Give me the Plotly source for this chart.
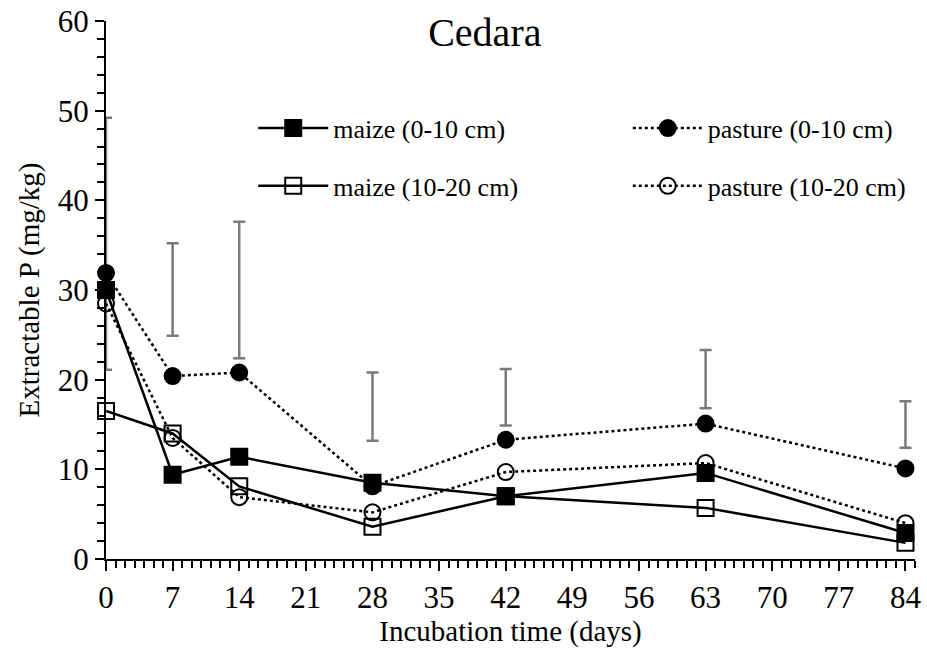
import plotly.graph_objects as go

days = [0, 7, 14, 28, 42, 63, 84]

maize_0_10 = [30.0, 9.4, 11.4, 8.5, 7.0, 9.6, 2.9]
maize_10_20 = [16.5, 14.0, 8.1, 3.6, 7.0, 5.7, 1.8]
pasture_0_10 = [31.9, 20.4, 20.8, 8.1, 13.3, 15.1, 10.1]
pasture_10_20 = [28.5, 13.5, 6.9, 5.2, 9.7, 10.7, 4.0]

# LSD bars (lower and upper ends)
lsd_low = [21.1, 24.9, 22.4, 13.2, 14.9, 16.8, 12.4]
lsd_high = [49.2, 35.2, 37.6, 20.8, 21.2, 23.3, 17.6]

FONT = "Liberation Serif, Times New Roman, serif"

fig = go.Figure()

# error bars first so they sit under the markers
fig.add_trace(go.Scatter(
    x=days, y=lsd_low, mode="markers",
    marker=dict(size=1, color="rgba(0,0,0,0)"),
    error_y=dict(type="data", symmetric=False,
                 array=[h - l for h, l in zip(lsd_high, lsd_low)],
                 arrayminus=[0] * len(days),
                 color="#7a7a7a", thickness=2.5, width=6),
    showlegend=False, hoverinfo="skip", cliponaxis=False,
))

series = [
    ("maize (0-10 cm)", maize_0_10, "solid", "square", "legend", "m1"),
    ("maize (10-20 cm)", maize_10_20, "solid", "square-open", "legend", "m2"),
    ("pasture (0-10 cm)", pasture_0_10, "dot", "circle", "legend2", "p1"),
    ("pasture (10-20 cm)", pasture_10_20, "dot", "circle-open", "legend2", "p2"),
]

for name, vals, dash, sym, leg, grp in series:
    fig.add_trace(go.Scatter(
        x=days, y=vals, name=name, mode="lines+markers",
        line=dict(color="black", width=2.5, dash=dash),
        marker=dict(symbol=sym, size=16, color="black",
                    line=dict(color="black", width=2)),
        legend=leg, legendgroup=grp, cliponaxis=False,
    ))

legend_style = dict(
    font=dict(family=FONT, size=26, color="black"),
    bgcolor="rgba(0,0,0,0)", traceorder="grouped",
    tracegroupgap=21, itemwidth=70, yanchor="middle",
)

fig.update_layout(
    width=927, height=653,
    margin=dict(l=106, r=12, t=21, b=94),
    paper_bgcolor="white", plot_bgcolor="white",
    font=dict(family=FONT, size=30, color="black"),
    title=dict(text="Cedara", x=0.523, xanchor="center", y=0.951, yanchor="middle",
               font=dict(family=FONT, size=40, color="black")),
    legend=dict(x=0.182, y=0.747, **legend_style),
    legend2=dict(x=0.645, y=0.747, **legend_style),
    xaxis=dict(
        range=[0, 85], tickmode="array", tickvals=list(range(0, 85, 7)),
        ticks="outside", ticklen=10, tickwidth=2, tickcolor="black",
        showline=True, linecolor="black", linewidth=2,
        showgrid=False, zeroline=False, automargin=False,
        ticklabeloverflow="allow",
        minor=dict(dtick=1, ticks="outside", ticklen=7, tickwidth=1.5,
                   tickcolor="black", showgrid=False),
        title=dict(text="Incubation time (days)", font=dict(size=29), standoff=6),
        tickfont=dict(size=31),
    ),
    yaxis=dict(
        range=[0, 60], dtick=10,
        ticks="outside", ticklen=9, tickwidth=2, tickcolor="black",
        showline=True, linecolor="black", linewidth=2,
        showgrid=False, zeroline=False, automargin=False,
        ticklabeloverflow="allow",
        minor=dict(dtick=2, ticks="outside", ticklen=7, tickwidth=1.5,
                   tickcolor="black", showgrid=False),
        title=dict(text="Extractable P (mg/kg)", font=dict(size=29), standoff=10),
        tickfont=dict(size=31),
    ),
)

# drop the default 8px body margin so the figure fills the window
fig.write_html("out.html", config={"displayModeBar": False},
               post_script="document.body.style.margin='0';")
